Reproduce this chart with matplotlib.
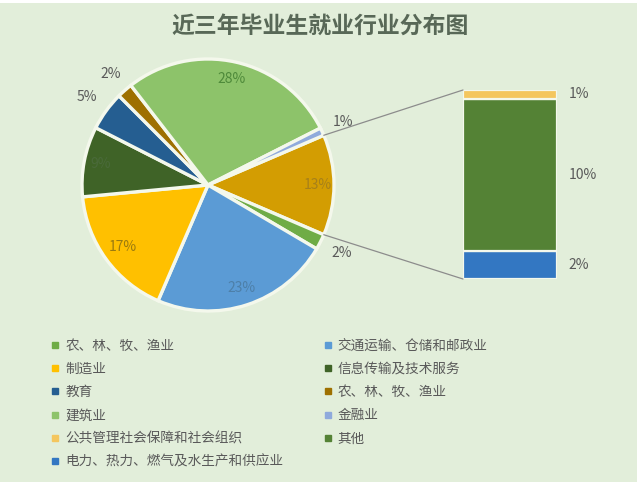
import matplotlib
matplotlib.use("Agg")
import matplotlib.pyplot as plt
from matplotlib.patches import Rectangle, ConnectionPatch
from matplotlib.lines import Line2D
import numpy as np

plt.rcParams['font.family'] = ['Noto Sans CJK SC', 'DejaVu Sans']

title = "近三年毕业生就业行业分布图"

# legend categories (Excel order)
categories = ["农、林、牧、渔业", "交通运输、仓储和邮政业", "制造业", "信息传输及技术服务",
              "教育", "农、林、牧、渔业", "建筑业", "金融业",
              "公共管理社会保障和社会组织", "其他", "电力、热力、燃气及水生产和供应业"]
values = [2, 23, 17, 9, 5, 2, 28, 1, 0.6, 10.4, 1.9]
labels = ["2%", "23%", "17%", "9%", "5%", "2%", "28%", "1%", "1%", "10%", "2%"]
other_label = "13%"

colors = ["#6FAC46", "#5B9BD5", "#FFC000", "#3F6327", "#255E91", "#9E7000",
          "#8DC36A", "#8FAADC", "#F4C65E", "#548235", "#3377C2"]
other_color = "#D39D02"
label_colors = ["#595959", "#4D7FA8", "#9A7A10", "#4A6A3A", "#595959", "#595959",
                "#4E8A3A", "#595959"]
label_radius = [1.19, 0.86, 0.84, 0.87, 1.19, 1.17, 0.86, 1.18]
other_label_color = "#A6801A"

n_main = 8
main_vals = values[:n_main]
sec_vals = values[n_main:]
other_val = sum(sec_vals)

W, H = 640, 491
fig = plt.figure(figsize=(W / 100, H / 100), dpi=100, facecolor="white")
bg = Rectangle((0, 9 / H), 637 / W, (H - 12) / H, transform=fig.transFigure,
               facecolor="#E2EEDA", edgecolor="none", zorder=-5)
fig.patches.append(bg)

fig.text(320 / W, 1 - 26 / H, title, ha="center", va="center", fontsize=16.5,
         fontweight="bold", color="#586857")

# pie axes
cx, cy, R = 208, 185, 126
half = 130
axp = fig.add_axes([(cx - half) / W, (H - cy - half) / H, 2 * half / W, 2 * half / H])

pie_vals = [other_val] + main_vals
pie_cols = [other_color] + colors[:n_main]
total = sum(pie_vals)
start = other_val / total * 360 / 2
wedges, _ = axp.pie(pie_vals, colors=pie_cols, startangle=start, counterclock=False,
                    radius=1, wedgeprops=dict(edgecolor="#F4F8EC", linewidth=2.4))
axp.set_xlim(-half / R, half / R)
axp.set_ylim(-half / R, half / R)
axp.set_aspect("equal")
axp.axis("off")

# labels
for i, w in enumerate(wedges):
    mid = np.deg2rad((w.theta1 + w.theta2) / 2)
    if i == 0:
        r, txt, col = 0.87, other_label, other_label_color
    else:
        r, txt, col = label_radius[i - 1], labels[i - 1], label_colors[i - 1]
    axp.text(r * np.cos(mid), r * np.sin(mid), txt, ha="center", va="center",
             fontsize=10, color=col)

# bar axes (secondary)
bx0, bx1, by0, by1 = 463, 557, 90, 279
axb = fig.add_axes([bx0 / W, (H - by1) / H, (bx1 - bx0) / W, (by1 - by0) / H])
axb.axis("off")
order = [2, 1, 0]  # bottom to top: 电力, 其他, 公共管理
bottom = 0
for k in order:
    axb.bar(0, sec_vals[k], bottom=bottom, width=1, color=colors[n_main + k],
            edgecolor="#F4F8EC", linewidth=1.6)
    axb.text(0.62, bottom + sec_vals[k] / 2, labels[n_main + k], ha="left", va="center",
             fontsize=10, color="#595959")
    bottom += sec_vals[k]
axb.set_xlim(-0.5, 0.5)
axb.set_ylim(0, bottom)

# connecting lines
w0 = wedges[0]
lo, hi = sorted([w0.theta1, w0.theta2])
for ang, yb in [(lo, 0), (hi, bottom)]:
    a = np.deg2rad(ang)
    con = ConnectionPatch(xyA=(np.cos(a), np.sin(a)), coordsA=axp.transData,
                          xyB=(-0.5, yb), coordsB=axb.transData,
                          color="#8C8C8C", linewidth=0.9)
    fig.add_artist(con)

# legend (row-major order in 2 columns)
handles = [Line2D([], [], marker="s", linestyle="none", markersize=5,
                  markerfacecolor=c, markeredgecolor=c) for c in colors]
idx = list(range(0, 11, 2)) + list(range(1, 11, 2))
leg = fig.legend([handles[i] for i in idx], [categories[i] for i in idx],
                 loc="upper left", bbox_to_anchor=(51 / W, 1 - 338.5 / H), ncol=2,
                 frameon=False, fontsize=9.8, labelcolor="#595959",
                 handlelength=0.6, handletextpad=0.45, columnspacing=2.95,
                 labelspacing=0.68, borderaxespad=0, borderpad=0)

fig.savefig("out.png", dpi=100, facecolor=fig.get_facecolor())
